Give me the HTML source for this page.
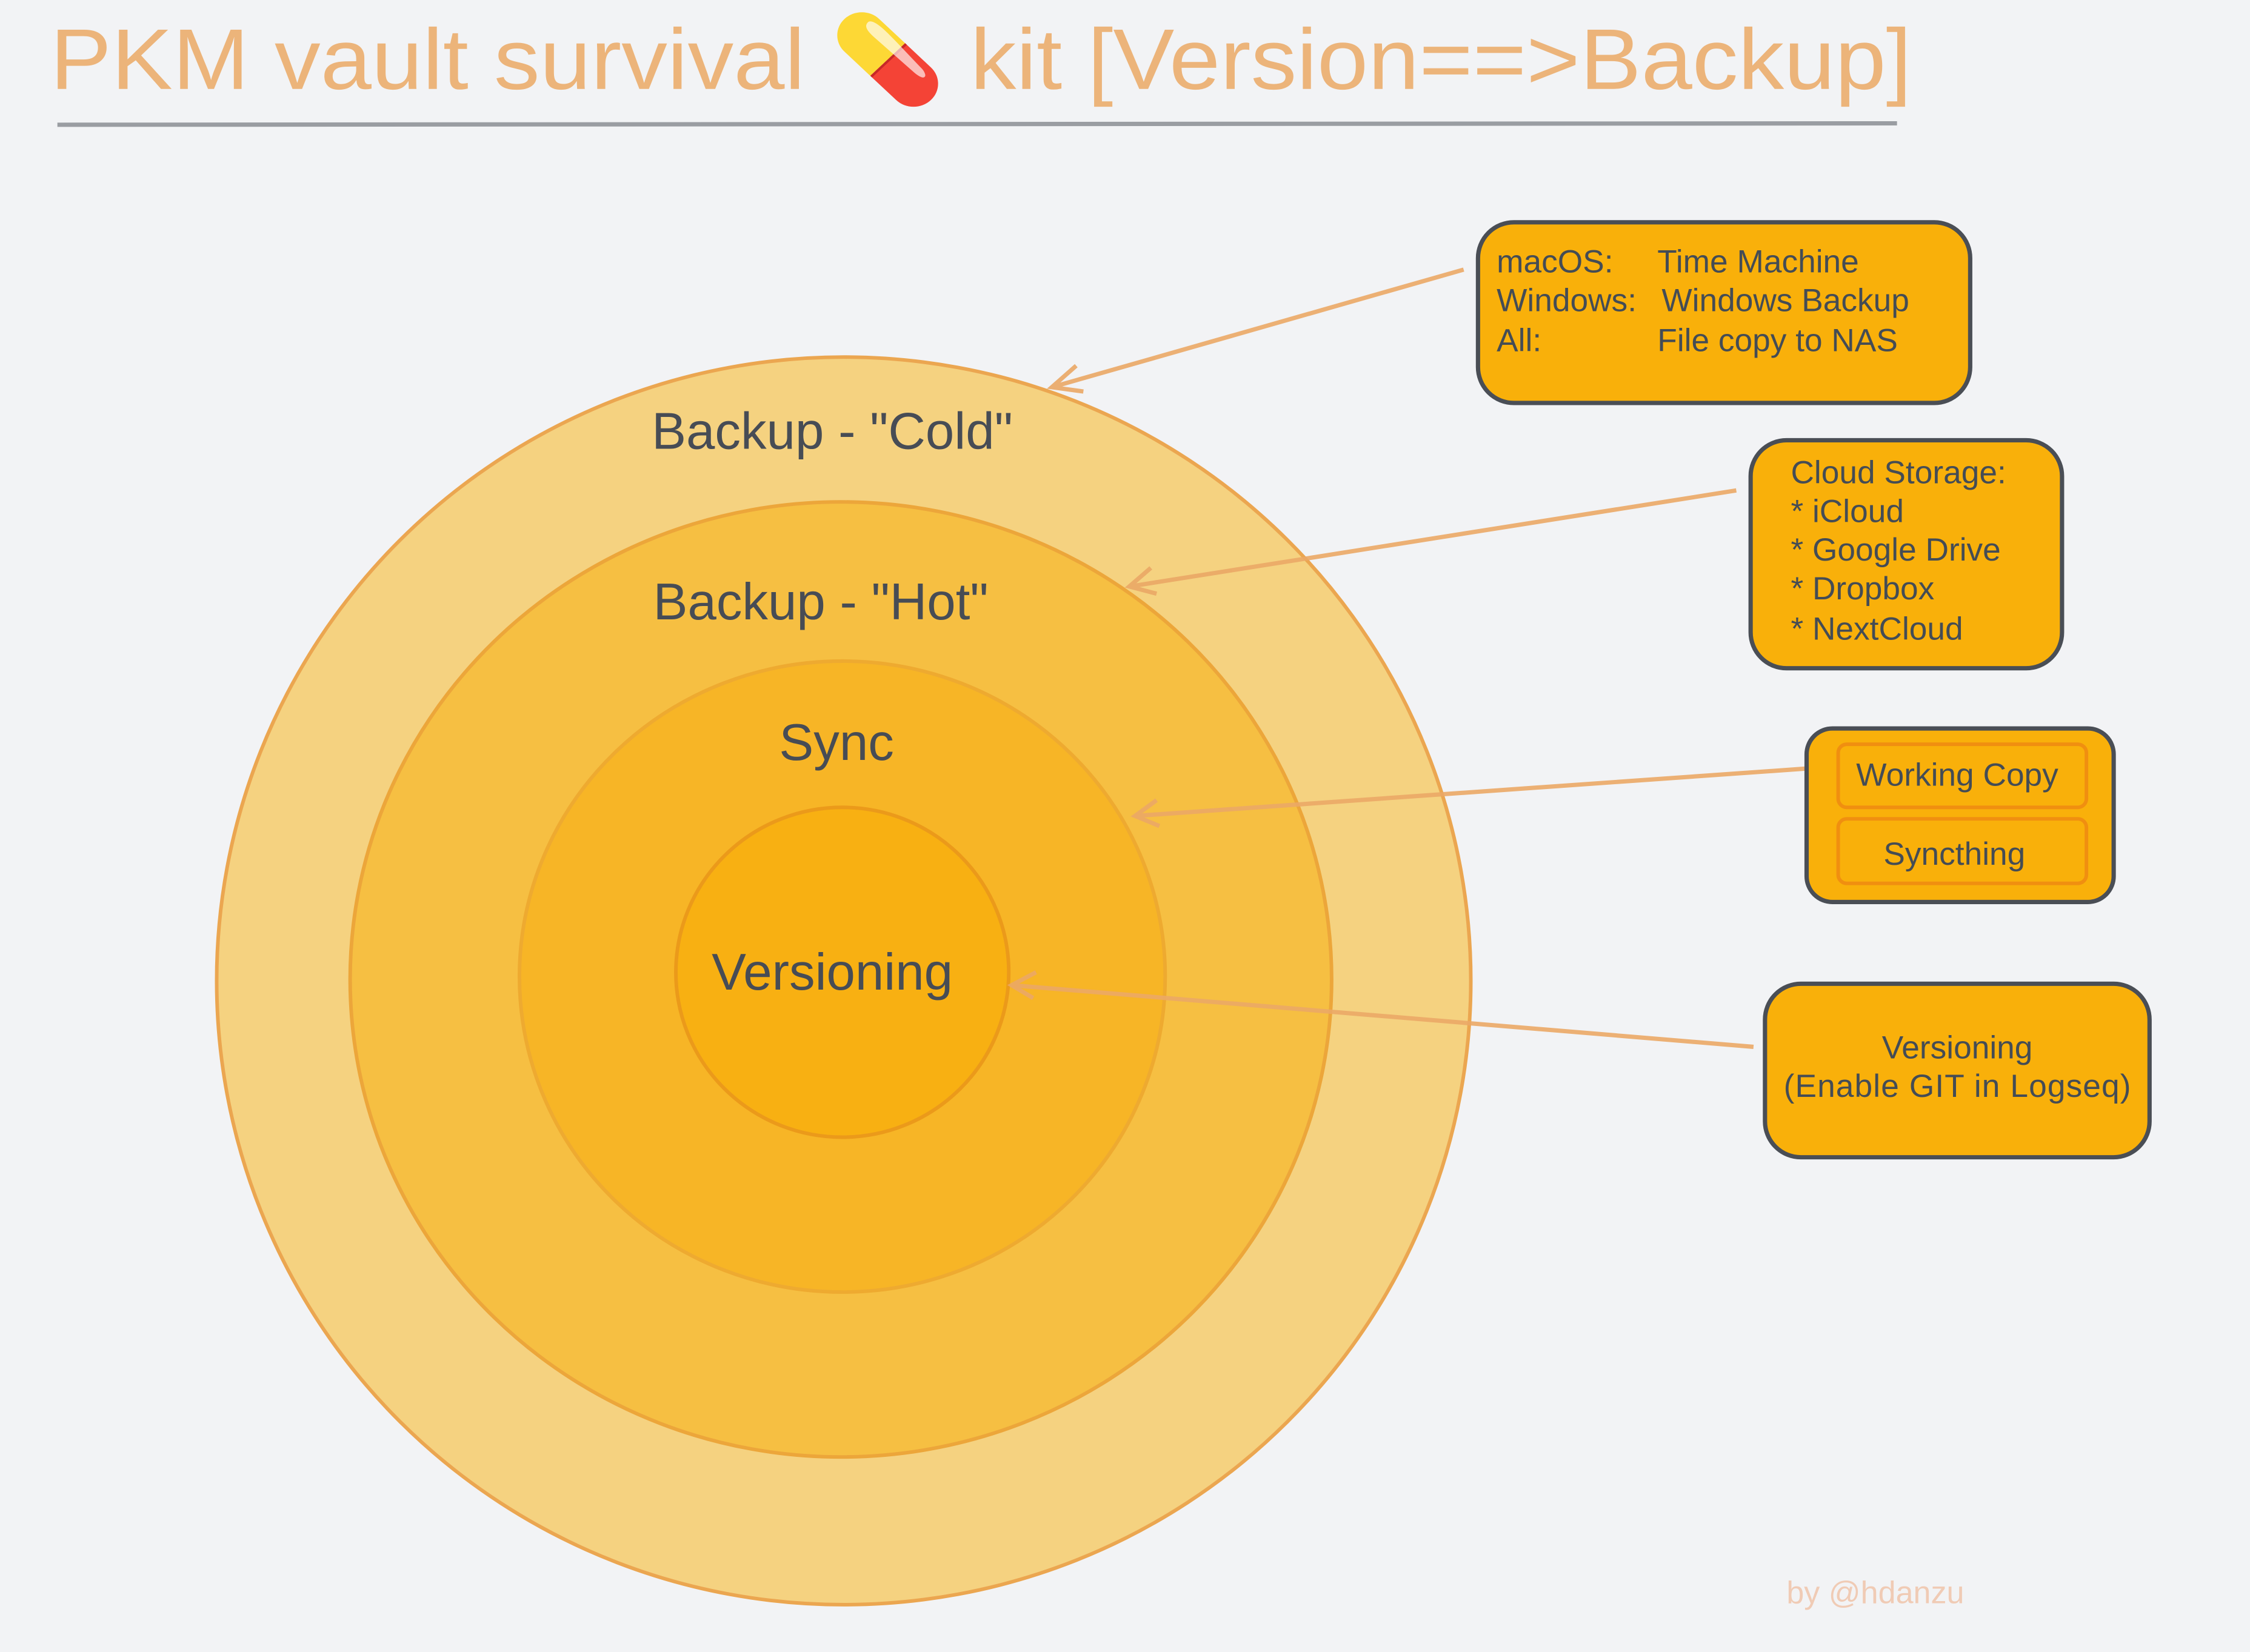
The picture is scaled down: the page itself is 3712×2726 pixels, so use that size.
<!DOCTYPE html>
<html><head><meta charset="utf-8"><style>
html,body{margin:0;padding:0;background:#f2f3f5;}
svg{display:block;}
text{font-family:"Liberation Sans",sans-serif;}
</style></head><body>
<svg width="3712" height="2726" viewBox="0 0 1568 1152" preserveAspectRatio="none" xmlns="http://www.w3.org/2000/svg">
<rect width="1568" height="1152" fill="#f2f3f5"/>
<text x="35" y="62" font-size="60" fill="#ecb47a" transform="translate(35 0) scale(1.066 1) translate(-35 0)">PKM vault survival <tspan font-family="'Noto Color Emoji','DejaVu Sans',sans-serif">💊</tspan> kit [Version==&gt;Backup]</text>
<line x1="40" y1="87" x2="1322" y2="86" stroke="#9a9da2" stroke-width="3"/>

<ellipse cx="588" cy="684" rx="437" ry="435" fill="#f5d280" stroke="#eba650" stroke-width="2.5"/>
<ellipse cx="586" cy="683" rx="342" ry="333" fill="#f6bf42" stroke="#eca63a" stroke-width="2.5"/>
<ellipse cx="587" cy="681" rx="225" ry="220" fill="#f7b526" stroke="#eeaa30" stroke-width="2.5"/>
<ellipse cx="587" cy="678" rx="116" ry="115" fill="#f8b012" stroke="#eb9a1a" stroke-width="2.5"/>

<g font-size="36" fill="#474c55" text-anchor="middle">
<text x="580" y="313">Backup - "Cold"</text>
<text x="572" y="432">Backup - "Hot"</text>
<text x="583" y="530">Sync</text>
<text x="580" y="690">Versioning</text>
</g>

<g stroke="#eba866" stroke-width="3" fill="none" opacity="0.9">
<line x1="1020" y1="188" x2="733" y2="270"/>
<polyline points="750,255 733,270 755,273"/>
<line x1="1210" y1="342" x2="787" y2="409"/>
<polyline points="802,396 787,409 806,414"/>
<line x1="1258" y1="536" x2="791" y2="569"/>
<polyline points="806,558 791,569 808,576"/>
<line x1="1222" y1="730" x2="705" y2="687"/>
<polyline points="722,678 705,687 720,696"/>
</g>

<g fill="#f9b00a" stroke="#4a4e55" stroke-width="3">
<rect x="1030" y="155" width="343" height="126" rx="25"/>
<rect x="1220" y="307" width="217" height="159" rx="25"/>
<rect x="1259" y="508" width="214" height="121" rx="18"/>
<rect x="1230" y="686" width="268" height="121" rx="25"/>
</g>
<g fill="none" stroke="#f08f10" stroke-width="2.5">
<rect x="1281" y="519" width="173" height="44" rx="6"/>
<rect x="1281" y="571" width="173" height="45" rx="6"/>
</g>

<g font-size="22.5" fill="#444c55">
<text x="1043" y="190">macOS:</text><text x="1155" y="190">Time Machine</text>
<text x="1043" y="217">Windows:</text><text x="1158" y="217">Windows Backup</text>
<text x="1043" y="245">All:</text><text x="1155" y="245">File copy to NAS</text>
<text x="1248" y="337">Cloud Storage:</text>
<text x="1248" y="364">* iCloud</text>
<text x="1248" y="391">* Google Drive</text>
<text x="1248" y="418">* Dropbox</text>
<text x="1248" y="446">* NextCloud</text>
<text x="1364" y="548" text-anchor="middle">Working Copy</text>
<text x="1362" y="603" text-anchor="middle">Syncthing</text>
<text x="1364" y="738" text-anchor="middle">Versioning</text>
<text x="1364" y="765" text-anchor="middle" textLength="242">(Enable GIT in Logseq)</text>
</g>
<text x="1245" y="1118" font-size="22" fill="#f0cbb5">by @hdanzu</text>
</svg>
</body></html>
